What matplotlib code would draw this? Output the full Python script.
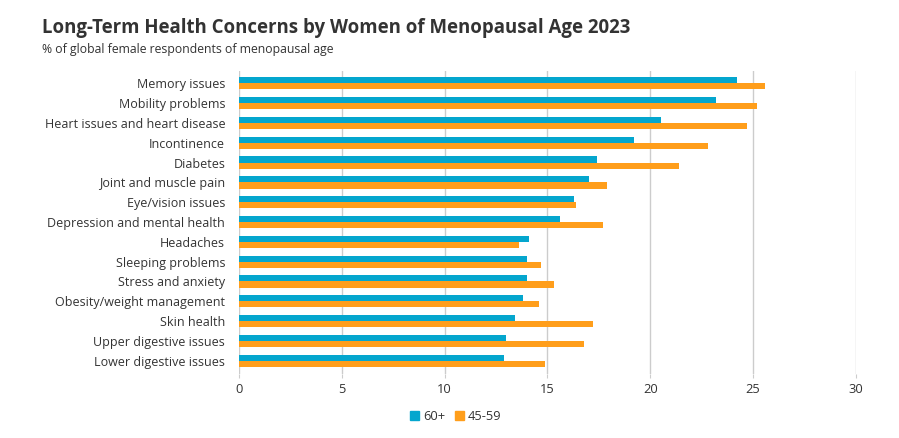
import matplotlib
matplotlib.use("Agg")
import matplotlib.pyplot as plt
import numpy as np
from matplotlib.patches import Patch

categories = ["Memory issues", "Mobility problems", "Heart issues and heart disease",
              "Incontinence", "Diabetes", "Joint and muscle pain", "Eye/vision issues",
              "Depression and mental health", "Headaches", "Sleeping problems",
              "Stress and anxiety", "Obesity/weight management", "Skin health",
              "Upper digestive issues", "Lower digestive issues"]
series_60 = [24.2, 23.2, 20.5, 19.2, 17.4, 17.0, 16.3, 15.6, 14.1, 14.0, 14.0, 13.8, 13.4, 13.0, 12.9]
series_45 = [25.6, 25.2, 24.7, 22.8, 21.4, 17.9, 16.4, 17.7, 13.6, 14.7, 15.3, 14.6, 17.2, 16.8, 14.9]
xticks = [0, 5, 10, 15, 20, 25, 30]

plt.rcParams['font.family'] = ['Open Sans', 'DejaVu Sans']
text_color = "#333333"

fig = plt.figure(figsize=(8.99, 4.38), dpi=100)
ax = fig.add_axes([0.266, 0.147, 0.686, 0.69])

y = np.arange(len(categories))
h = 0.31
c60 = "#04A6CE"
c45 = "#FF9E1B"
ax.barh(y - h / 2, series_60, height=h, color=c60, zorder=3)
ax.barh(y + h / 2, series_45, height=h, color=c45, zorder=3)

ax.set_ylim(len(categories) - 0.35, -0.6)
ax.set_xlim(0, 30)
ax.set_xticks(xticks)
ax.set_xticklabels([str(t) for t in xticks], fontsize=9.3, color=text_color)
ax.set_yticks(y)
ax.set_yticklabels(categories, fontsize=9.0, color=text_color)
ax.tick_params(axis='y', length=0, pad=10)
ax.tick_params(axis='x', length=3, color="#cccccc", pad=4)
ax.xaxis.grid(True, color="#cccccc", linewidth=1.0, zorder=0)
for s in ax.spines.values():
    s.set_visible(False)

fig.text(0.047, 0.925, "Long-Term Health Concerns by Women of Menopausal Age 2023",
         fontsize=13.4, fontweight='bold', color=text_color, ha='left', va='baseline')
fig.text(0.047, 0.878, "% of global female respondents of menopausal age",
         fontsize=8.8, color=text_color, ha='left', va='baseline')

handles = [Patch(color=c60, label="60+"), Patch(color=c45, label="45-59")]
fig.legend(handles=handles, loc='center', bbox_to_anchor=(0.507, 0.048), ncol=2, frameon=False,
           fontsize=9.3, handlelength=0.7, handleheight=0.7, handletextpad=0.3,
           columnspacing=0.8, labelcolor=text_color)

fig.savefig("out.png", dpi=100)
